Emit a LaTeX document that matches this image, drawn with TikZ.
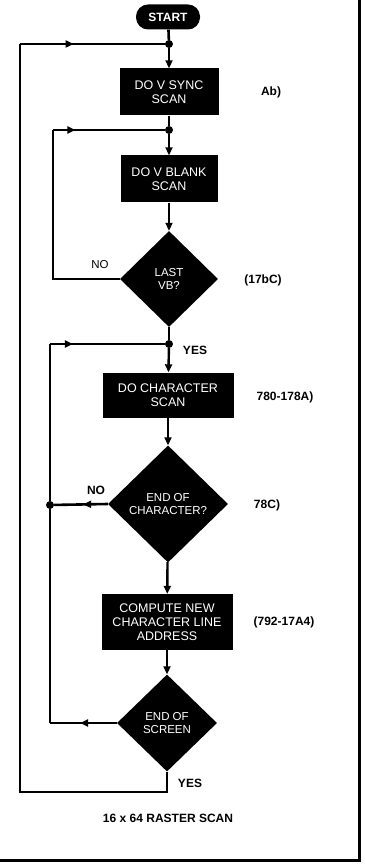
\documentclass[tikz,border=0pt]{standalone}
\usepackage{fontspec}
\setmainfont{Liberation Sans}
\usetikzlibrary{shapes.geometric,arrows.meta,decorations.markings}
\begin{document}
\begin{tikzpicture}[x=1pt,y=-1pt,
  line/.style={line width=2.6pt},
  flow/.style={line width=2.4pt,-{Triangle[length=8pt,width=7pt]}},
  procbox/.style={fill=black,text=white,inner sep=0pt,font=\fontsize{12.5}{14}\selectfont,align=center},
  decision/.style={diamond,fill=black,text=white,inner sep=0pt,font=\fontsize{11.5}{13.5}\selectfont,align=center},
  lbl/.style={font=\bfseries\fontsize{12}{13}\selectfont,inner sep=0pt},
  dot/.style={circle,fill=black,inner sep=0pt,minimum size=8pt},
  midarrow/.style={postaction={decorate},decoration={markings,mark=at position #1 with {\arrow{Triangle[length=8pt,width=7pt]}}}},
]
\useasboundingbox (0,0) rectangle (364,866);
% frame edges
\draw[line width=3pt] (359,0) -- (359,860) -- (0,860);
% nodes
\node[fill=black,text=white,rounded corners=12pt,minimum width=64pt,minimum height=25pt,inner sep=0pt,font=\bfseries\fontsize{12}{13}\selectfont] (start) at (168,17) {START};
\node[dot] (j1) at (169,44) {};
\node[procbox,minimum width=99pt,minimum height=47pt] (b1) at (169,92) {DO V SYNC\\SCAN};
\node[dot] (j2) at (169,130) {};
\node[procbox,minimum width=97pt,minimum height=47pt] (b2) at (169,179) {DO V BLANK\\SCAN};
\node[decision,minimum width=98pt,minimum height=96pt] (d1) at (169,279) {LAST\\VB?};
\node[dot] (j3) at (169,344) {};
\node[procbox,minimum width=131pt,minimum height=45pt] (b3) at (168,395) {DO CHARACTER\\SCAN};
\node[decision,minimum width=120pt,minimum height=117pt] (d2) at (168,504) {END OF\\CHARACTER?};
\node[dot] (j4) at (50,505) {};
\node[procbox,minimum width=131pt,minimum height=56pt] (b4) at (167,622) {COMPUTE NEW\\CHARACTER LINE\\ADDRESS};
\node[decision,minimum width=100pt,minimum height=97pt] (d3) at (167,723) {END OF\\SCREEN};
\coordinate (c1) at (20,44);
\coordinate (c2) at (20,792);
\coordinate (c3) at (167,792);
\coordinate (c4) at (53,130);
\coordinate (c5) at (53,279);
\coordinate (c6) at (50,344);
\coordinate (c7) at (50,723);
% main flow
\draw[line] (start) -- (j1);
\draw[flow] (j1) -- (b1);
\draw[line] (b1) -- (j2);
\draw[flow] (j2) -- (b2);
\draw[flow] (b2) -- (d1);
\draw[line] (d1.south) -- (j3);
\draw[flow] (j3) -- (b3);
\draw[flow] (b3) -- (d2);
\draw[flow] (d2) -- (b4);
\draw[flow] (b4) -- (d3);
% loops
\draw[line,line join=miter] (d3.south) -- (c3) -- (c2) -- (c1);
\draw[line,midarrow=0.37] (c1) -- (j1);
\draw[line,line join=miter] (d1.west) -- (c5) -- (c4);
\draw[line,midarrow=0.2] (c4) -- (j2);
\draw[line,midarrow=0.46] (d2.west) -- (j4);
\draw[line,midarrow=0.55] (d3.west) -- (c7);
\draw[line] (c7) -- (j4) -- (c6);
\draw[line,midarrow=0.2] (c6) -- (j3);
% labels
\node[lbl] (t1) at (271,92) {Ab)};
\node[font=\fontsize{11.5}{13}\selectfont,inner sep=0pt] (no1) at (100,265) {NO};
\node[lbl] (t2) at (263,280) {(17bC)};
\node[lbl] (yes1) at (195,350) {YES};
\node[lbl] (t3) at (285,397) {780-178A)};
\node[lbl] (no2) at (96,490) {NO};
\node[lbl] (t4) at (267,505) {78C)};
\node[lbl] (t5) at (284,622) {(792-17A4)};
\node[lbl] (yes2) at (190,783) {YES};
\node[lbl] (cap) at (168,818) {16 x 64 RASTER SCAN};
\end{tikzpicture}
\end{document}
